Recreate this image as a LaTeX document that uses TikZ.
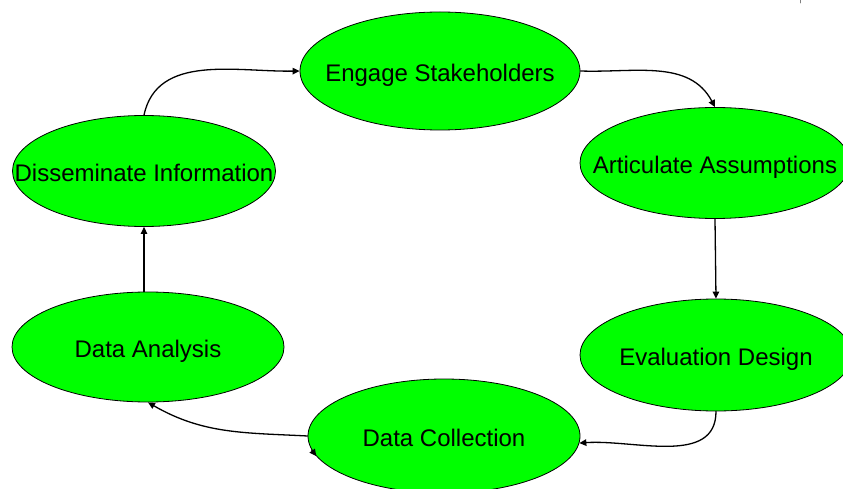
\documentclass[tikz,border=0pt]{standalone}
\usepackage{fontspec}
\setmainfont{Liberation Sans}
\usetikzlibrary{shapes.geometric,arrows.meta}
\begin{document}
\begin{tikzpicture}[x=1pt, y=1pt, font=\fontsize{24}{28}\selectfont, line join=round, line cap=round,
		>={Triangle[length=7pt,width=6.5pt]},
		stage/.style={ellipse, draw, line width=0.8pt, fill=green, inner sep=0pt, text height=21pt, text depth=0pt},
		flow/.style={->, line width=1.3pt}]
	\useasboundingbox (0,0) rectangle (843,-489);
	% the six stages of the cycle
	\node[stage, minimum width=280, minimum height=118] (eng) at (440,-71) {\makebox[0pt]{Engage Stakeholders}};
	\node[stage, minimum width=270, minimum height=111] (art) at (715,-163) {\makebox[0pt]{Articulate Assumptions}};
	\node[stage, minimum width=272, minimum height=112] (eva) at (716,-355) {\makebox[0pt]{Evaluation Design}};
	\node[stage, minimum width=272, minimum height=114] (col) at (444,-436) {\makebox[0pt]{Data Collection}};
	\node[stage, minimum width=272, minimum height=110] (ana) at (148,-347) {\makebox[0pt]{Data Analysis}};
	\node[stage, minimum width=263, minimum height=111] (dis) at (144,-171) {\makebox[0pt]{Disseminate Information}};
	% arrows round the cycle
	\draw[flow] (dis.north) to[out=78,in=181] (eng.west);
	\draw[flow] (eng.east) to[out=-2,in=118] (art.north);
	\draw[flow] (art.south) -- (eva.north);
	\draw[flow] (eva.south) to[out=-90,in=4] (col.-3);
	\draw[flow] (col.west) to[out=177,in=-30] (ana.south);
	\draw[flow] (ana.north -| dis.south) -- (dis.south);
	\draw[flow] (col.186) -- (col.189);
	\draw[gray, line width=0.8pt] (800,0) -- (800,-3);
\end{tikzpicture}
\end{document}
